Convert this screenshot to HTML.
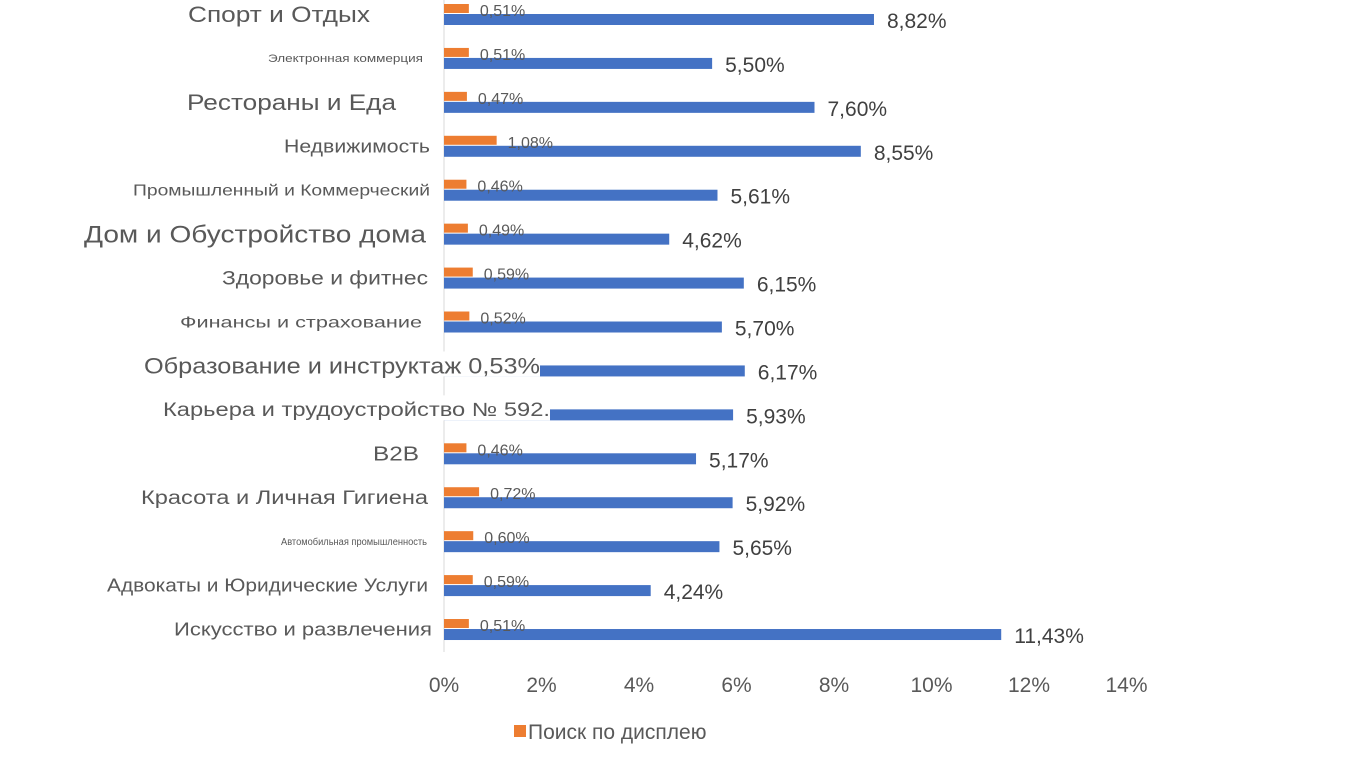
<!DOCTYPE html>
<html><head><meta charset="utf-8"><style>
body{margin:0;background:#fff;}
svg{display:block;font-family:"Liberation Sans","DejaVu Sans",sans-serif;}
</style></head><body>
<svg id="chart" width="1368" height="757"></svg>
<script>
const categories=["Спорт и Отдых","Электронная коммерция","Рестораны и Еда","Недвижимость","Промышленный и Коммерческий","Дом и Обустройство дома","Здоровье и фитнес","Финансы и страхование","Образование и инструктаж 0,53%","Карьера и трудоустройство № 592.","B2B","Красота и Личная Гигиена","Автомобильная промышленность","Адвокаты и Юридические Услуги","Искусство и развлечения"];
const displayValues=[0.51,0.51,0.47,1.08,0.46,0.49,0.59,0.52,0.53,0.50,0.46,0.72,0.60,0.59,0.51];
const searchValues=[8.82,5.50,7.60,8.55,5.61,4.62,6.15,5.70,6.17,5.93,5.17,5.92,5.65,4.24,11.43];
const tickValues=[0,2,4,6,8,10,12,14];
const labelFont=[22,11,22,18,16,24,19,16,22,19,20,19,10,18,18];
const labelLeft=[188,268,187,284,133,84,222,180,144,163,373,141,281,107,174];
const labelRight=[370,423,396,430,430,426,428,422,540,550,419,428,427,428,432];

const svg=document.getElementById('chart');
const NS='http://www.w3.org/2000/svg';
const x0=444, pxPer=48.75;
const xs=v=>x0+v*pxPer;
const rowY=i=>14+i*43.93;
function mk(t,a){const e=document.createElementNS(NS,t);for(const k in a)e.setAttribute(k,a[k]);svg.appendChild(e);return e;}

const axis=mk('line',{x1:x0,y1:0,x2:x0,y2:652,stroke:'#d9d9d9','stroke-width':1});



tickValues.forEach(v=>{
  const t=mk('text',{x:xs(v),y:692,'text-anchor':'middle','font-size':21,fill:'#595959'});
  t.textContent=v+'%';
  
  
});

categories.forEach((c,i)=>{
  const y=rowY(i);
  const ob=mk('rect',{x:x0,y:y-10,width:xs(displayValues[i])-x0,height:9,fill:'#ed7d31'});
  
  
  const bb=mk('rect',{x:x0,y:y,width:xs(searchValues[i])-x0,height:11,fill:'#4472c4'});
  
  
  if(labelRight[i]<=440){
    const ol=mk('text',{x:xs(displayValues[i])+11,y:y+2,'font-size':16,fill:'#595959'});
    ol.textContent=displayValues[i].toFixed(2).replace('.',',')+'%';
    
    
  } else {
    const bg=mk('rect',{x:x0-2,y:y-14,width:labelRight[i]-x0+2,height:25,fill:'#fff'});
    
    
  }
  const bl=mk('text',{x:xs(searchValues[i])+13,y:y+14,'font-size':21,fill:'#404040'});
  bl.textContent=searchValues[i].toFixed(2).replace('.',',')+'%';
  
  
  const cl=mk('text',{x:labelLeft[i],y:y+labelFont[i]*0.36,'font-size':labelFont[i],fill:'#595959',textLength:labelRight[i]-labelLeft[i],lengthAdjust:'spacingAndGlyphs'});
  cl.textContent=c;
  
  
});

const lk=mk('rect',{x:514,y:725,width:12,height:12,fill:'#ed7d31'});


const lt=mk('text',{x:528,y:739,'font-size':21,fill:'#595959'});
lt.textContent='Поиск по дисплею';


</script>
</body></html>
